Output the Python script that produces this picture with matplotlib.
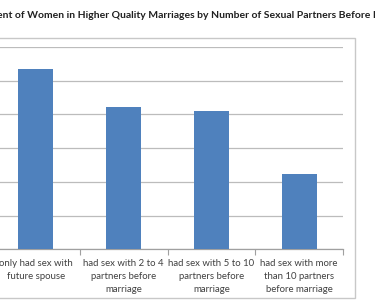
import matplotlib
matplotlib.use('Agg')
import matplotlib.pyplot as plt
from matplotlib.patches import Rectangle

categories = ['only had sex with\nfuture spouse',
              'had sex with 2 to 4\npartners before\nmarriage',
              'had sex with 5 to 10\npartners before\nmarriage',
              'had sex with more\nthan 10 partners\nbefore marriage']
values = [53.5, 42.1, 41.0, 22.3]
title = 'Percent of Women in Higher Quality Marriages by Number of Sexual Partners Before Marriage'

plt.rcParams['font.family'] = ['Lato', 'DejaVu Sans']

fig = plt.figure(figsize=(3.75, 3.0), dpi=100)
fig.patch.set_facecolor('white')

# outer chart frame (left side cut off in the screenshot)
fig.patches.append(Rectangle((-0.1, 2 / 300), 355 / 375 + 0.1, (297 - 37) / 300,
                             transform=fig.transFigure, fill=False,
                             edgecolor='#c8c8c8', lw=1.0))

ax = fig.add_axes([-8 / 375, (300 - 249.3) / 300, 351 / 375, 202.3 / 300])
x = range(len(values))
ax.bar(x, values, width=0.4, color='#4F81BD', zorder=3)
ax.set_xlim(-0.5, 3.5)
ax.set_ylim(0, 60)
ax.set_yticks(range(0, 61, 10))
ax.set_yticklabels([])
ax.tick_params(axis='y', length=0)
ax.yaxis.grid(True, color='#bcbcbc', lw=0.9, zorder=0)
ax.set_xticks(list(x))
ax.set_xticklabels(categories, fontsize=6.9, color='#404040', linespacing=1.55)
ax.tick_params(axis='x', length=0, pad=7)
ax.set_xticks([-0.5, 0.5, 1.5, 2.5, 3.5], minor=True)
ax.tick_params(axis='x', which='minor', length=4, color='#a0a0a0', width=0.8)
for s in ['top', 'right', 'left']:
    ax.spines[s].set_visible(False)
ax.spines['bottom'].set_color('#a0a0a0')
ax.spines['bottom'].set_linewidth(0.9)

fig.text(195 / 375, 1 - 15 / 300, title, ha='center', va='center',
         fontsize=7.5, fontweight='bold', color='#202020')

fig.savefig('out.png', dpi=100)
